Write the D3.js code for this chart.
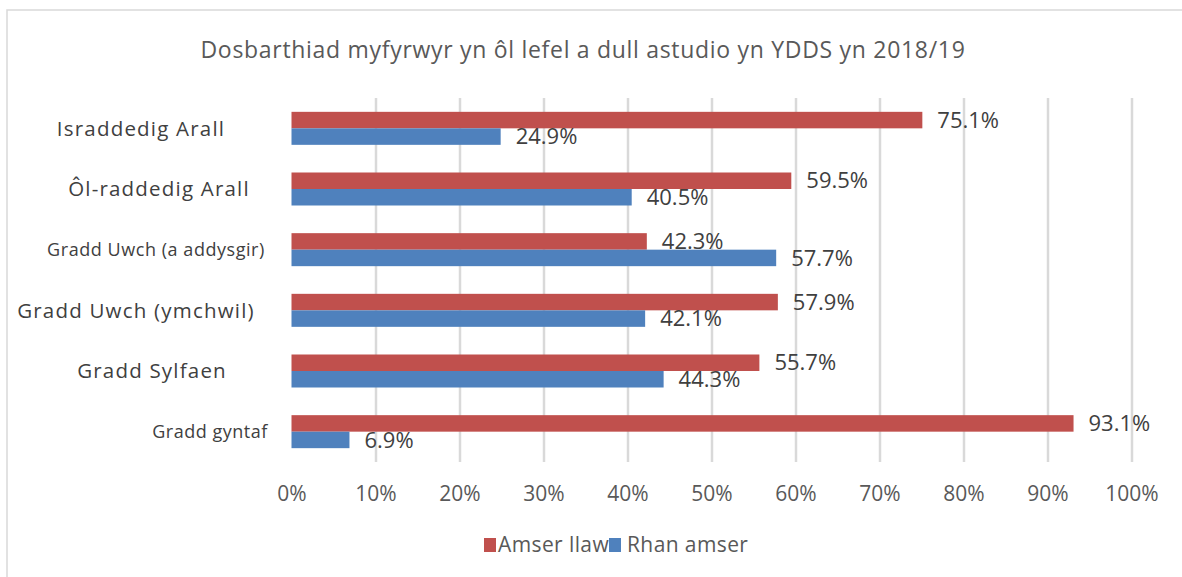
<!DOCTYPE html>
<html>
<head>
<meta charset="utf-8">
<script src="https://cdn.jsdelivr.net/npm/d3@7"></script>
<style>
  body { margin: 0; background: #fff; }
  svg text { font-family: "Open Sans", Lato, sans-serif; }
</style>
</head>
<body>
<div id="visual"></div>
<script>

///// DATA /////
var categories = ["Israddedig Arall", "Ôl-raddedig Arall", "Gradd  Uwch (a addysgir)",
	"Gradd Uwch (ymchwil)", "Gradd Sylfaen", "Gradd gyntaf"];
var seriesNames = ["Amser llawn", "Rhan amser"];
var fullTime = [75.1, 59.5, 42.3, 57.9, 55.7, 93.1];
var partTime = [24.9, 40.5, 57.7, 42.1, 44.3, 6.9];
var xTicks = [0, 10, 20, 30, 40, 50, 60, 70, 80, 90, 100];

var colors = ["#c0504d", "#4f81bd"];

///// DIMENSIONS /////
var W = 1182, H = 577;
var margins = { left: 291.5, right: 50.5, top: 98, bottom: 115 };
var width = W - margins.left - margins.right,
	height = H - margins.top - margins.bottom;

var rows = categories.map(function(c, i) {
	return { cat: c, values: [fullTime[i], partTime[i]] };
});

var svg = d3.select('#visual').append('svg')
	.attr('width', W).attr('height', H);

// outer frame
svg.append('rect')
	.attr('x', 7).attr('y', 10)
	.attr('width', W + 10).attr('height', H + 10)
	.attr('fill', '#fff').attr('stroke', '#d9d9d9').attr('stroke-width', 1.5);

// title
svg.append('text')
	.attr('x', 583).attr('y', 58)
	.attr('text-anchor', 'middle')
	.style('font-size', '23px').style('letter-spacing', '0.7px').style('fill', '#595959')
	.text('Dosbarthiad myfyrwyr yn ôl lefel a dull astudio yn YDDS yn 2018/19');

///// SCALES /////
var xScale = d3.scaleLinear().domain([0, 100]).range([0, width]);
var yScale = d3.scaleBand().domain(categories).range([0, height])
	.paddingInner(0.456).paddingOuter(0.228);
var ySub = d3.scaleBand().domain(d3.range(seriesNames.length))
	.range([0, yScale.bandwidth()]);

var g = svg.append('g')
	.attr('transform', 'translate(' + margins.left + ',' + margins.top + ')');

// gridlines
g.append('g')
	.call(d3.axisBottom(xScale).tickValues(xTicks.slice(1)).tickSize(height).tickFormat(''))
	.call(function(s) {
		s.select('.domain').remove();
		s.selectAll('line').attr('stroke', '#d9d9d9').attr('stroke-width', 2.5);
	});

// x tick labels
g.append('g')
	.attr('transform', 'translate(0,' + height + ')')
	.call(d3.axisBottom(xScale).tickValues(xTicks).tickSize(0).tickPadding(24)
		.tickFormat(function(d) { return d + '%'; }))
	.call(function(s) {
		s.select('.domain').remove();
		s.selectAll('text').style('font-size', '21px').style('fill', '#595959')
			.style('font-family', '"Open Sans", sans-serif');
	});

///// BARS /////
var groups = g.selectAll('.grp').data(rows).enter().append('g')
	.attr('class', 'grp')
	.attr('transform', function(d) { return 'translate(0,' + yScale(d.cat) + ')'; });

groups.selectAll('rect')
	.data(function(d) { return d.values; }).enter().append('rect')
	.attr('x', 0)
	.attr('y', function(d, i) { return ySub(i); })
	.attr('width', function(d) { return xScale(d); })
	.attr('height', ySub.bandwidth())
	.attr('fill', function(d, i) { return colors[i]; });

groups.selectAll('.val')
	.data(function(d) { return d.values; }).enter().append('text')
	.attr('class', 'val')
	.attr('x', function(d) { return xScale(d) + 15; })
	.attr('y', function(d, i) { return ySub(i) + ySub.bandwidth() / 2; })
	.attr('dy', '0.35em')
	.style('font-size', '22px').style('fill', '#404040')
	.text(function(d) { return d.toFixed(1) + '%'; });

///// CATEGORY LABELS /////
var catSize = [20.5, 20.5, 18, 20.5, 20.5, 18];
var catSpacing = [1.2, 1.2, 0.55, 1.2, 1.2, 0.5];
var catX = [141, 159, 156, 136, 152, 210];
svg.selectAll('.cat').data(categories).enter().append('text')
	.attr('class', 'cat')
	.attr('x', function(d, i) { return catX[i]; })
	.attr('y', function(d) { return margins.top + yScale(d) + yScale.bandwidth() / 2; })
	.attr('dy', '0.35em')
	.attr('text-anchor', 'middle')
	.style('font-size', function(d, i) { return catSize[i] + 'px'; })
	.style('letter-spacing', function(d, i) { return catSpacing[i] + 'px'; })
	.style('fill', '#404040')
	.text(function(d) { return d; });

///// LEGEND /////
var legendX = [484, 609];
var legend = svg.selectAll('.legend').data(seriesNames).enter().append('g')
	.attr('class', 'legend')
	.attr('transform', function(d, i) { return 'translate(' + legendX[i] + ',545)'; });

legend.append('rect')
	.attr('x', 0).attr('y', -7)
	.attr('width', 12).attr('height', 14)
	.attr('fill', function(d, i) { return colors[i]; });

legend.append('text')
	.attr('x', function(d, i) { return i === 0 ? 14 : 18; })
	.attr('y', 0).attr('dy', '0.35em')
	.style('font-size', '21px').style('letter-spacing', '0.4px').style('fill', '#595959')
	.text(function(d) { return d; });

</script>
</body>
</html>
